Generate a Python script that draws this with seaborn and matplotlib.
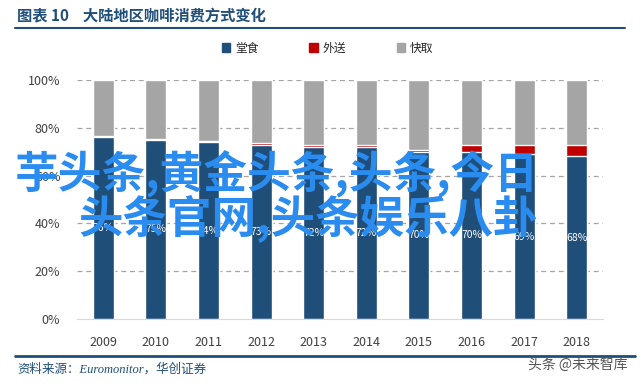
import matplotlib
matplotlib.use("Agg")
import matplotlib.pyplot as plt
import seaborn as sns
from matplotlib.patches import Patch

sns.set_style("white")
plt.rcParams["font.family"] = ["Noto Sans CJK SC", "DejaVu Sans"]

# 大陆地区咖啡消费方式 (%)
years = ["2009", "2010", "2011", "2012", "2013", "2014", "2015", "2016", "2017", "2018"]
dine_in = [76, 75, 74, 73, 72, 72, 70, 70, 69, 68]          # 堂食
delivery = [0.4, 0.5, 0.4, 0.5, 0.6, 0.6, 0.9, 2.8, 3.6, 4.9]  # 外送
takeaway = [23.6, 24.5, 25.6, 26.5, 27.4, 27.4, 29.1, 27.2, 27.4, 27.1]  # 快取
series_names = ["堂食", "外送", "快取"]

c_blue = "#1F4E79"
c_red = "#C00000"
c_gray = "#A5A5A5"

fig = plt.figure(figsize=(6.4, 3.85), dpi=100)
ax = fig.add_axes([77 / 640, 1 - 319 / 385, 526 / 640, 239 / 385])

top_red = [d + r for d, r in zip(dine_in, delivery)]
top_all = [t + k for t, k in zip(top_red, takeaway)]

# 叠加绘制：先画总高度，再依次覆盖
sns.barplot(x=years, y=top_all, color=c_gray, width=0.4, saturation=1, ax=ax, zorder=2)
sns.barplot(x=years, y=top_red, color=c_red, width=0.4, saturation=1, ax=ax, zorder=3)
sns.barplot(x=years, y=dine_in, color=c_blue, width=0.4, saturation=1, ax=ax, zorder=4)

ax.bar_label(ax.containers[-1], labels=[f"{v:.0f}%" for v in dine_in],
             label_type="center", color="white", fontsize=7.5, zorder=5)

ax.set_ylim(0, 100)
ax.set_xlim(-0.5, len(years) - 0.5)
ax.set_yticks(range(0, 101, 20))
ax.set_yticklabels([f"{v}%" for v in range(0, 101, 20)])
ax.set_xlabel("")
ax.set_ylabel("")
ax.tick_params(axis="both", length=0, labelsize=9, labelcolor="#404040")
ax.tick_params(axis="y", pad=12)
ax.tick_params(axis="x", pad=12)
for v in range(20, 101, 20):
    ax.axhline(v, color="#a6a6a6", lw=0.9, ls=(0, (4, 3)), zorder=1)
for s in ["left", "right", "top"]:
    ax.spines[s].set_visible(False)
ax.spines["bottom"].set_color("#d9d9d9")
ax.spines["bottom"].set_zorder(6)

# 图例
handles = [Patch(color=c) for c in (c_blue, c_red, c_gray)]
fig.legend(handles, series_names, loc="center", bbox_to_anchor=(0.512, 1 - 48 / 385),
           ncol=3, frameon=False, fontsize=8.5, handlelength=0.7, handleheight=0.7,
           handletextpad=0.4, columnspacing=4.3)

# 标题与横线
fig.text(17 / 640, 1 - 16 / 385, "图表 10    大陆地区咖啡消费方式变化", color=c_blue,
         fontsize=11, fontweight="bold", va="center", ha="left")
fig.add_artist(plt.Line2D([15 / 640, 625 / 640], [1 - 28 / 385] * 2, color=c_blue, lw=1.5))
fig.add_artist(plt.Line2D([15 / 640, 635 / 640], [1 - 356 / 385] * 2, color=c_blue, lw=2))

fig.text(17 / 640, 1 - 369 / 385, "资料来源：Euromonitor，华创证券", color=c_blue,
         fontsize=9, style="italic", va="center", ha="left",
         family=["Liberation Serif", "Noto Sans CJK SC"])
fig.text(628 / 640, 1 - 365 / 385, "头条 @未来智库", color="#555555",
         fontsize=10, va="center", ha="right")

# 覆盖文字
fig.text(15 / 640, 1 - 174 / 385, "芋头条,黄金头条,头条,今日", color="#2B8CF0",
         fontsize=31.5, fontweight="bold", va="center", ha="left", zorder=10)
fig.text(78 / 640, 1 - 219 / 385, "头条官网,头条娱乐八卦", color="#2B8CF0",
         fontsize=32, fontweight="bold", va="center", ha="left", zorder=10)

fig.savefig("out.png", dpi=100)
